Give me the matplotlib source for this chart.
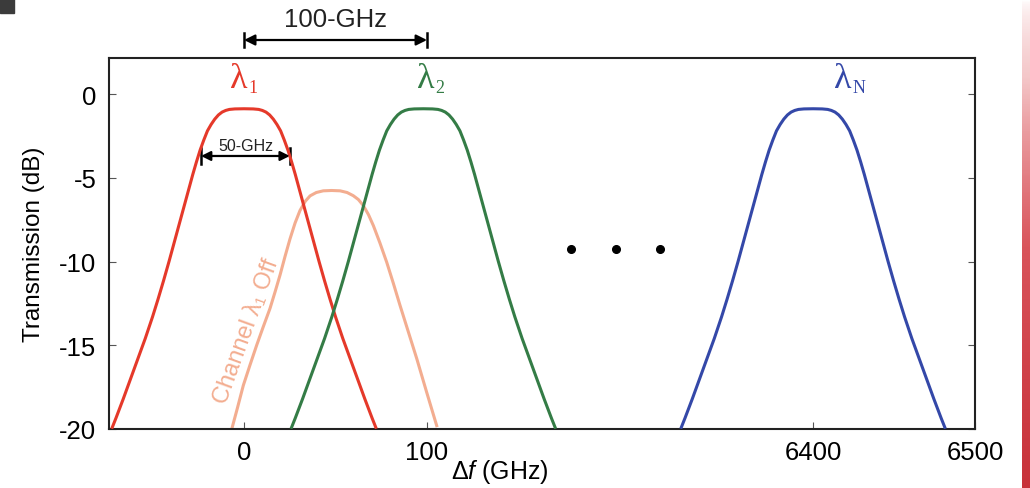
import numpy as np
import matplotlib
matplotlib.use("Agg")
import matplotlib.pyplot as plt
from matplotlib.colors import LinearSegmentedColormap
from matplotlib.patches import Rectangle

plt.rcParams["font.family"] = ["Liberation Sans", "DejaVu Sans"]
plt.rcParams["mathtext.fontset"] = "custom"
plt.rcParams["mathtext.rm"] = "Liberation Sans"
plt.rcParams["mathtext.it"] = "Liberation Sans:italic"

# Filter passband, one half: offset from channel centre (GHz) and transmission (dB)
half_offset = [0, 5, 8, 10, 12, 14, 16, 18, 20, 22, 24, 26, 28, 30, 32, 35, 38, 41, 44, 47, 50,
               54, 58, 62, 66, 70, 72]
half_db = [-0.88, -0.89, -0.92, -0.98, -1.08, -1.25, -1.5, -1.82, -2.2, -2.75, -3.35, -4.05, -4.8,
           -5.6, -6.4, -7.6, -8.8, -10.0, -11.15, -12.25, -13.3, -14.6, -15.8, -17.0, -18.2, -19.35, -19.9]

# Channel centres (GHz)
center_l1 = 0
center_l2 = 98
center_lN = 6400

# Transmission of channel lambda_1 when switched off
off_freq = [-6.7, -3.5, -0.4, 3.2, 6.9, 10.5, 14.2, 17.0, 19.7, 22.4, 25.1, 27.9, 30.6, 33.5, 36.1,
            39.5, 43.3, 47.9, 52.5, 56.3, 59.7, 62.5, 65.2, 68.0, 70.7, 74.3, 78.0, 81.6, 85.2,
            89.8, 94.4, 99.8, 105.3]
off_db = [-20.0, -18.7, -17.4, -16.2, -15.0, -13.9, -12.8, -11.8, -10.8, -9.7, -8.66, -7.7, -6.95,
          -6.4, -6.08, -5.88, -5.78, -5.76, -5.78, -5.88, -6.07, -6.3, -6.66, -7.2, -7.86, -8.9,
          -10.05, -11.3, -12.6, -14.2, -15.8, -17.8, -19.8]

# Axis break: the 6400 GHz region is drawn right after the first channels
break_shift = 6400 - 311
xtick_pos = [0, 100, 6400 - break_shift, 399.5]
xtick_labels = ["0", "100", "6400", "6500"]
yticks = [0, -5, -10, -15, -20]
dots_x = [178.7, 203.3, 227.3]
dots_y = [-9.25, -9.25, -9.25]

RED = "#e5392a"
GREEN = "#347c46"
BLUE = "#3448a8"
SALMON = "#f3ad90"

profile_x = np.concatenate([-np.array(half_offset[:0:-1]), half_offset])
profile_db = np.concatenate([half_db[:0:-1], half_db])


def dim_arrow(ax, x0, x1, y, half, transform, mscale):
    ax.annotate("", xy=(x1, y), xytext=(x0, y), xycoords=transform, textcoords=transform,
                arrowprops=dict(arrowstyle="<|-|>", color="black", lw=1.6,
                                shrinkA=0, shrinkB=0, mutation_scale=mscale),
                annotation_clip=False)
    for x in (x0, x1):
        ax.plot([x, x], [y - half, y + half], color="black", lw=1.8,
                transform=transform, clip_on=False)


def channel_name(ax, x, y, sub, color):
    ax.text(x, y, "\u03bb", color=color, fontsize=26, ha="right", va="center",
            family="Liberation Serif")
    ax.text(x + 0.5, y - 0.55, sub, color=color, fontsize=13, ha="left", va="center",
            family="Liberation Serif")


fig = plt.figure(figsize=(10.3, 4.89), dpi=100)
ax = fig.add_axes([109 / 1030, 1 - 430 / 489, 866 / 1030, 371 / 489])

ax.plot(profile_x + center_l1, profile_db, color=RED, lw=2.2, zorder=3)
ax.plot(off_freq, off_db, color=SALMON, lw=2.2, zorder=2)
ax.plot(profile_x + center_l2, profile_db, color=GREEN, lw=2.2, zorder=3)
ax.plot(profile_x + center_lN - break_shift, profile_db, color=BLUE, lw=2.2, zorder=3)
ax.plot(dots_x, dots_y, "o", color="black", ms=5.5, ls="none")

ax.set_xlim(-73.8, 399.5)
ax.set_ylim(-20, 2.15)
ax.set_xticks(xtick_pos)
ax.set_xticklabels(xtick_labels)
ax.set_yticks(yticks)
ax.set_yticklabels([str(v) for v in yticks])
ax.tick_params(axis="both", direction="in", labelsize=18.5, length=5, width=0.8, color="#555555")
ax.tick_params(axis="y", right=True, pad=9)
ax.tick_params(axis="x", pad=8)
for sp in ax.spines.values():
    sp.set_linewidth(1.5)
    sp.set_color("#222222")

ax.set_ylabel("Transmission (dB)", fontsize=17.5, labelpad=10)
ax.set_xlabel(r"$\Delta\mathit{f}$ (GHz)", fontsize=18, labelpad=0)
ax.xaxis.set_label_coords(0.451, -0.075)

# Channel names
channel_name(ax, 2, 0.95, "1", RED)
channel_name(ax, 104, 0.95, "2", GREEN)
channel_name(ax, 6400 - break_shift + 21, 0.95, "N", BLUE)

ax.text(1.6, -14.1, "Channel \u03bb\u2081 Off", color=SALMON, fontsize=17, rotation=70,
        ha="center", va="center", rotation_mode="anchor")

# Bandwidth and channel spacing markers
dim_arrow(ax, -23.5, 25, -3.7, 0.45, ax.transData, 14)
ax.text(1, -3.55, "50-GHz", fontsize=11.5, ha="center", va="bottom", color="#222222")

xtrans = ax.get_xaxis_transform()
dim_arrow(ax, 0, 100, 1.0485, 0.018, xtrans, 16)
ax.text(50, 1.105, "100-GHz", fontsize=18.5, ha="center", va="center", transform=xtrans, color="#222222")

# Edge marks of the figure
fig.patches.append(Rectangle((0, 1 - 14 / 489), 14 / 1030, 14 / 489, transform=fig.transFigure,
                             color="#3b3b3b", zorder=5))
strip = fig.add_axes([1022 / 1030, 0, 8 / 1030, 1])
strip_cmap = LinearSegmentedColormap.from_list("strip", ["#ffffff", "#f4c6c8", "#d9545b", "#c8323a"])
strip.imshow(np.linspace(0, 1, 200)[:, None] ** 0.6, cmap=strip_cmap, aspect="auto")
strip.set_axis_off()

fig.savefig("out.png", dpi=100)
